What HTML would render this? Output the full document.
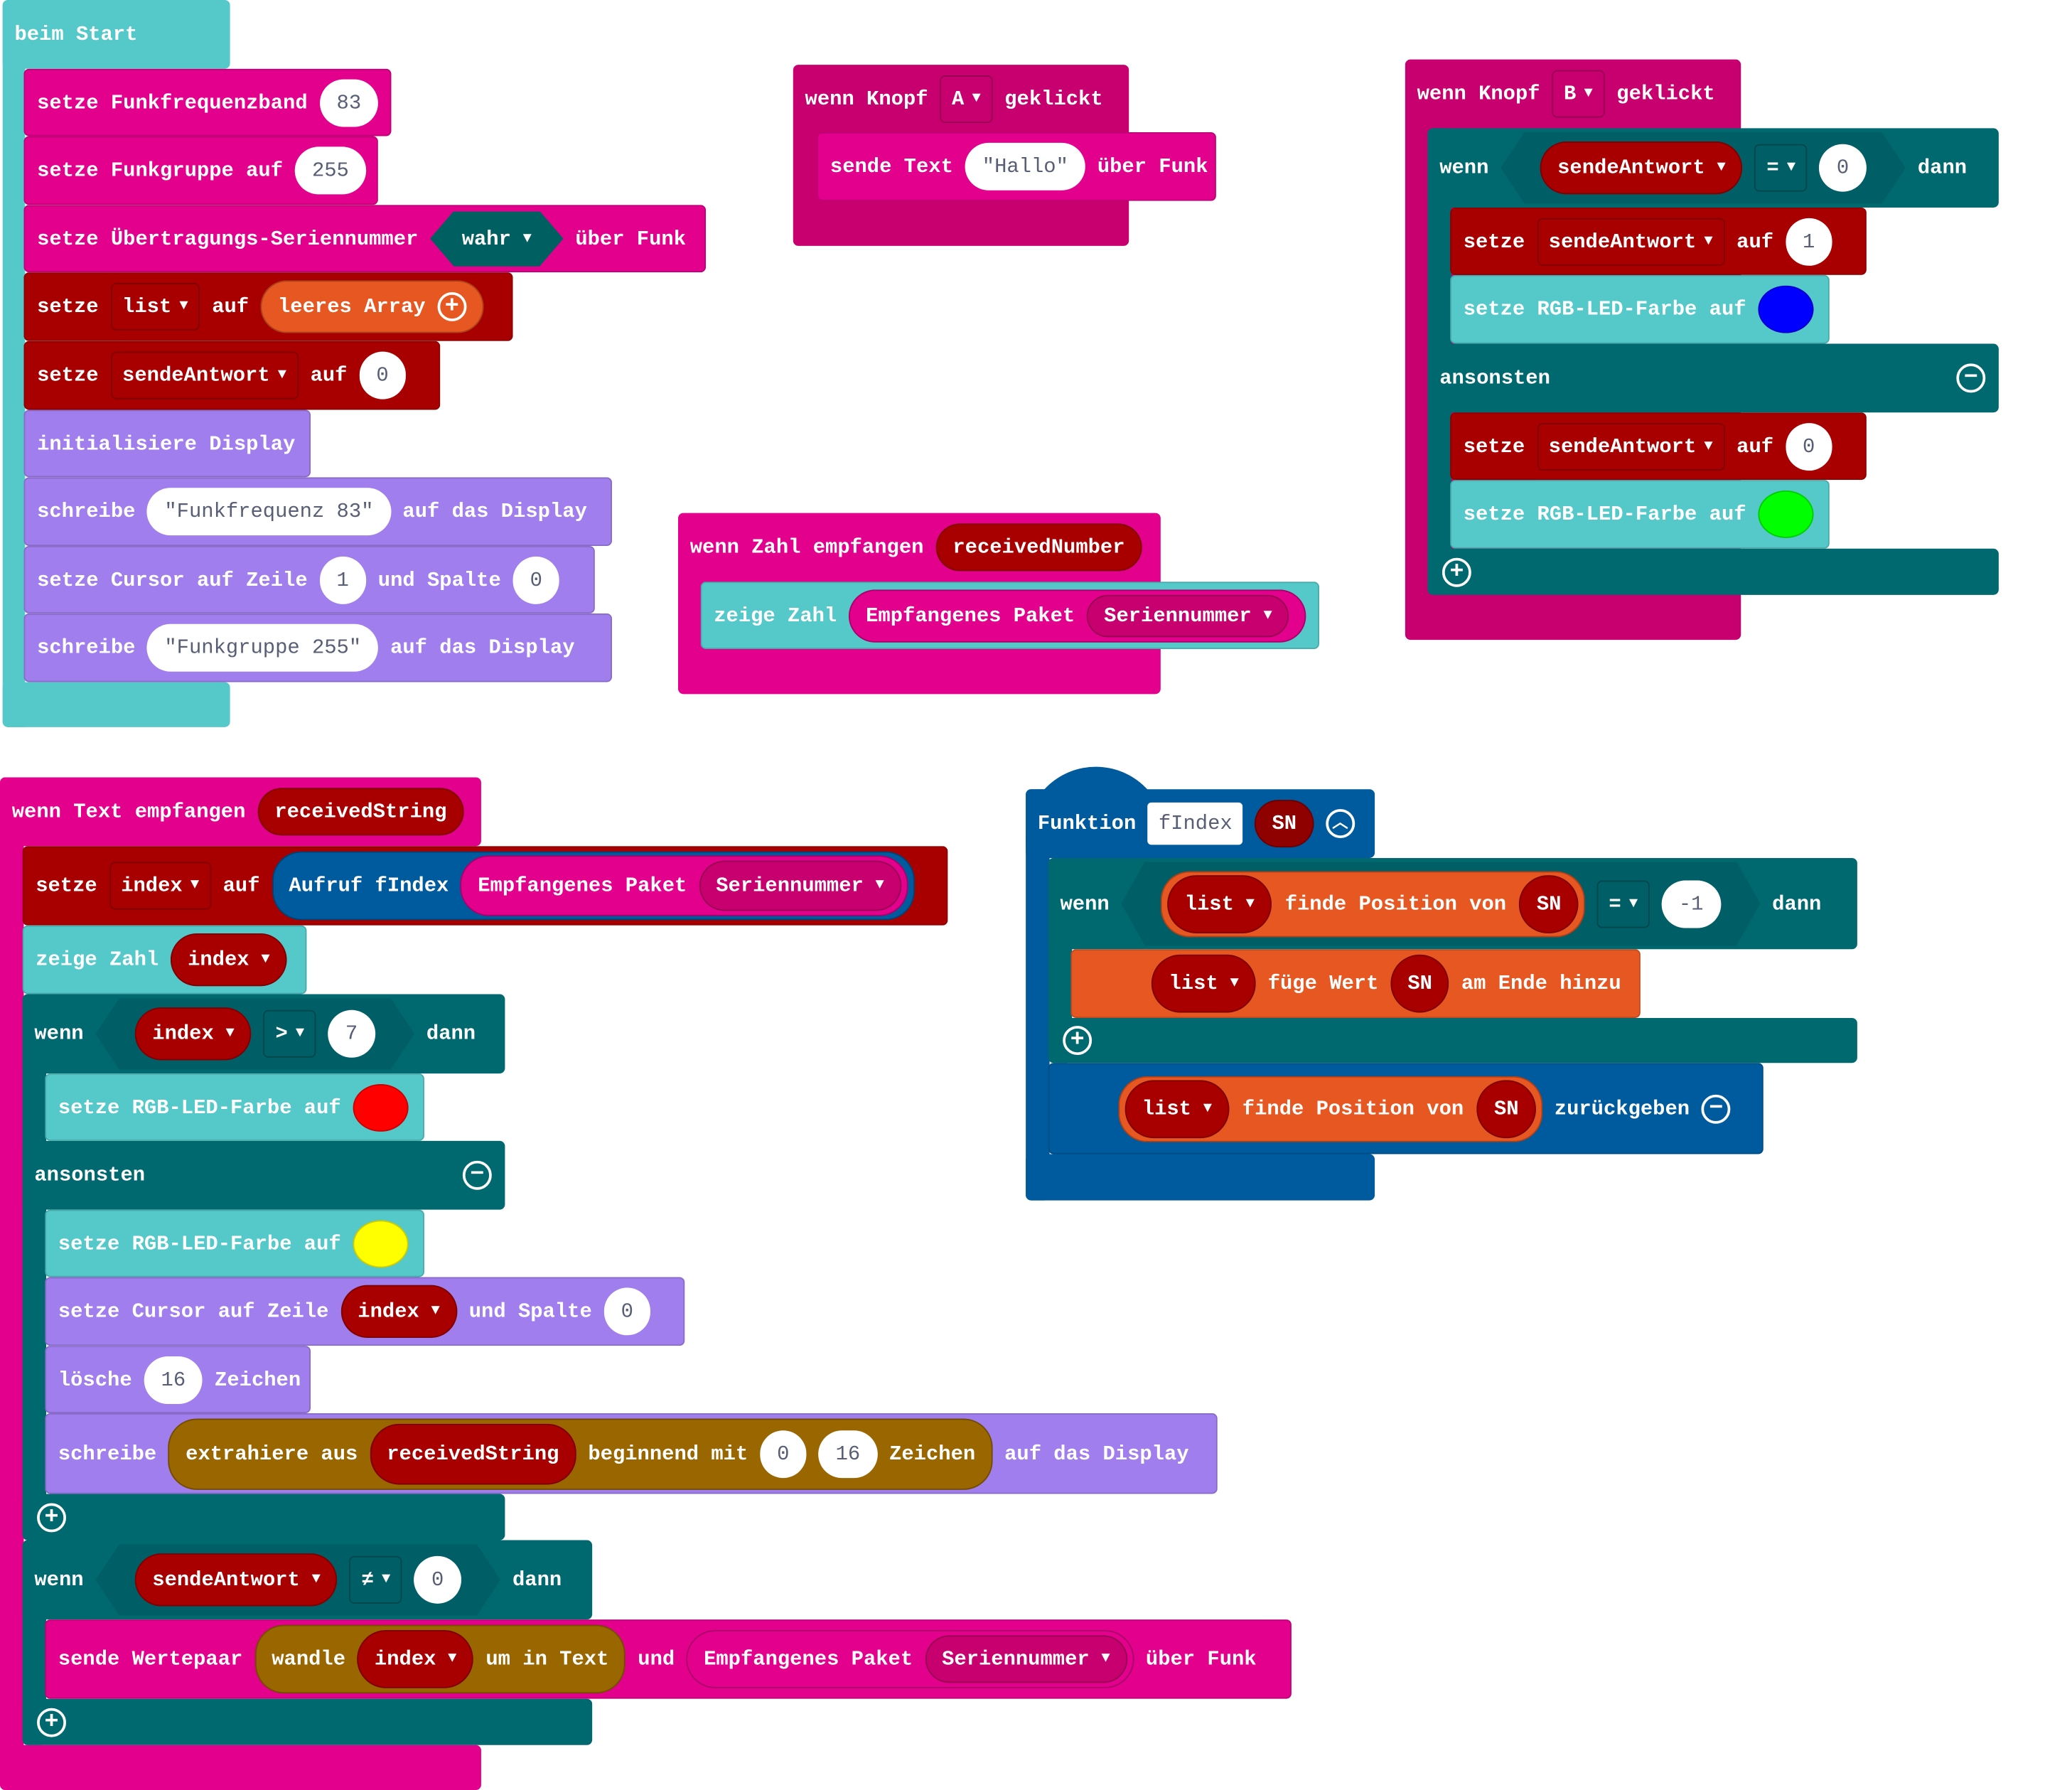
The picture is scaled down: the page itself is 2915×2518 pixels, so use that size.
<!DOCTYPE html>
<html><head><meta charset="utf-8"><style>
html,body{margin:0;padding:0;background:#fff;width:2915px;height:2518px;overflow:hidden}
#s{position:relative;width:1568px;height:1354px;transform:scale(1.8597);transform-origin:0 0}
.b{position:absolute;box-sizing:border-box;border-radius:4px}
.k{position:absolute;box-sizing:border-box;display:flex;align-items:center;gap:9px;padding-left:9px;border-radius:4px;color:#fff;font:bold 15.5px "Liberation Mono","DejaVu Sans Mono",monospace;white-space:nowrap;border:1px solid rgba(0,0,0,.15)}
.w{background:#fff;color:#575e75;border-radius:20px;height:36px;padding:0 13px;display:flex;align-items:center;font-weight:normal}
.r{border-radius:22px;height:40px;padding:0 12px;display:flex;align-items:center;gap:9px;border:1px solid rgba(0,0,0,.25);box-sizing:border-box}
.d{border:1px solid rgba(0,0,0,.25);border-radius:4px;height:36px;padding:0 8px;display:flex;align-items:center;gap:6px;box-sizing:border-box}
.a{font-size:11px}
.c{width:22px;height:22px;border:2px solid #fff;border-radius:50%;box-sizing:border-box;display:flex;align-items:center;justify-content:center;font-size:18px;line-height:1}
.sw{width:42px;height:36px;border-radius:50%;border:1px solid rgba(0,0,0,.2);box-sizing:border-box}
.hx{height:42px;display:flex;align-items:center;gap:9px;padding:0 24px;clip-path:polygon(18px 0,calc(100% - 18px) 0,100% 50%,calc(100% - 18px) 100%,18px 100%,0 50%)}
.mag{background:#e3008c}.red{background:#a80000}.pur{background:#a07eed}.lt{background:#55c9c9}.tl{background:#006970}.or{background:#e65722}.bl{background:#005a9e}.br{background:#996600}.hm{background:#c8006f}
</style></head><body><div id="s">

<!-- beim Start -->
<div class="b lt" style="left:2px;top:0;width:172px;height:52px"></div>
<div class="b lt" style="left:2px;top:0;width:17px;height:550px;border-radius:4px 0 0 4px"></div>
<div class="b lt" style="left:2px;top:516px;width:172px;height:34px"></div>
<div class="k" style="left:2px;top:0;height:52px;border:0">beim Start</div>
<div class="k mag" style="left:18px;top:52px;width:278px;height:51px">setze Funkfrequenzband<span class="w">83</span></div>
<div class="k mag" style="left:18px;top:103px;width:268px;height:52px">setze Funkgruppe auf<span class="w">255</span></div>
<div class="k mag" style="left:18px;top:155px;width:516px;height:51px">setze Übertragungs-Seriennummer<span class="hx" style="background:#005f60">wahr <span class="a">▼</span></span>über Funk</div>
<div class="k red" style="left:18px;top:206px;width:370px;height:52px">setze<span class="d">list <span class="a">▼</span></span>auf<span class="r or">leeres Array<span class="c">+</span></span></div>
<div class="k red" style="left:18px;top:258px;width:315px;height:52px">setze<span class="d">sendeAntwort <span class="a">▼</span></span>auf<span class="w">0</span></div>
<div class="k pur" style="left:18px;top:310px;width:217px;height:51px">initialisiere Display</div>
<div class="k pur" style="left:18px;top:361px;width:445px;height:52px">schreibe<span class="w">"Funkfrequenz  83"</span>auf das Display</div>
<div class="k pur" style="left:18px;top:413px;width:432px;height:51px">setze Cursor auf Zeile<span class="w">1</span>und Spalte<span class="w">0</span></div>
<div class="k pur" style="left:18px;top:464px;width:445px;height:52px">schreibe<span class="w">"Funkgruppe   255"</span>auf das Display</div>

<!-- Knopf A -->
<div class="b hm" style="left:600px;top:49px;width:254px;height:137px"></div>
<div class="k" style="left:600px;top:49px;height:51px;border:0">wenn Knopf<span class="d">A <span class="a">▼</span></span>geklickt</div>
<div class="k mag" style="left:618px;top:100px;width:302px;height:52px">sende Text<span class="w">"Hallo"</span>über Funk</div>

<!-- Knopf B -->
<div class="b hm" style="left:1063px;top:45px;width:254px;height:439px"></div>
<div class="k" style="left:1063px;top:45px;height:52px;border:0">wenn Knopf<span class="d">B <span class="a">▼</span></span>geklickt</div>
<div class="b tl" style="left:1080px;top:97px;width:432px;height:60px"></div>
<div class="b tl" style="left:1080px;top:97px;width:18px;height:353px"></div>
<div class="b tl" style="left:1080px;top:260px;width:432px;height:52px"></div>
<div class="b tl" style="left:1080px;top:415px;width:432px;height:35px"></div>
<div class="k" style="left:1080px;top:97px;height:60px;border:0">wenn<span class="hx" style="background:#005f66;height:54px;padding:0 30px"><span class="r red">sendeAntwort <span class="a">▼</span></span><span class="d">= <span class="a">▼</span></span><span class="w">0</span></span>dann</div>
<div class="k red" style="left:1097px;top:157px;width:315px;height:51px">setze<span class="d">sendeAntwort <span class="a">▼</span></span>auf<span class="w">1</span></div>
<div class="k lt" style="left:1097px;top:208px;width:287px;height:52px">setze RGB-LED-Farbe auf<span class="sw" style="background:#0000ff"></span></div>
<div class="k" style="left:1080px;top:260px;width:432px;height:52px;border:0">ansonsten<span class="c" style="position:absolute;right:10px">−</span></div>
<div class="k red" style="left:1097px;top:312px;width:315px;height:51px">setze<span class="d">sendeAntwort <span class="a">▼</span></span>auf<span class="w">0</span></div>
<div class="k lt" style="left:1097px;top:363px;width:287px;height:52px">setze RGB-LED-Farbe auf<span class="sw" style="background:#00ff00"></span></div>
<div class="k" style="left:1082px;top:415px;height:35px;border:0"><span class="c">+</span></div>

<!-- Zahl empfangen -->
<div class="b mag" style="left:513px;top:388px;width:365px;height:137px"></div>
<div class="k" style="left:513px;top:388px;height:52px;border:0">wenn Zahl empfangen<span class="r red" style="height:36px">receivedNumber</span></div>
<div class="k lt" style="left:530px;top:440px;width:468px;height:51px">zeige Zahl<span class="r mag">Empfangenes Paket<span class="r hm" style="height:32px">Seriennummer <span class="a">▼</span></span></span></div>

<!-- Text empfangen -->
<div class="b mag" style="left:0;top:588px;width:364px;height:52px"></div>
<div class="b mag" style="left:0;top:588px;width:18px;height:766px"></div>
<div class="b mag" style="left:0;top:1320px;width:364px;height:34px"></div>
<div class="k" style="left:0;top:588px;height:52px;border:0">wenn Text empfangen<span class="r red" style="height:36px">receivedString</span></div>
<div class="k red" style="left:17px;top:640px;width:700px;height:60px">setze<span class="d">index <span class="a">▼</span></span>auf<span class="r bl" style="height:52px;padding-right:4px">Aufruf fIndex<span class="r mag" style="height:46px;padding-right:4px">Empfangenes Paket<span class="r hm" style="height:38px">Seriennummer <span class="a">▼</span></span></span></span></div>
<div class="k lt" style="left:17px;top:700px;width:215px;height:52px">zeige Zahl<span class="r red">index <span class="a">▼</span></span></div>
<div class="b tl" style="left:17px;top:752px;width:365px;height:60px"></div>
<div class="b tl" style="left:17px;top:752px;width:18px;height:413px"></div>
<div class="b tl" style="left:17px;top:863px;width:365px;height:52px"></div>
<div class="b tl" style="left:17px;top:1130px;width:365px;height:35px"></div>
<div class="k" style="left:17px;top:752px;height:60px;border:0">wenn<span class="hx" style="background:#005f66;height:54px;padding:0 30px"><span class="r red">index <span class="a">▼</span></span><span class="d">&gt; <span class="a">▼</span></span><span class="w">7</span></span>dann</div>
<div class="k lt" style="left:34px;top:812px;width:287px;height:51px">setze RGB-LED-Farbe auf<span class="sw" style="background:#ff0000"></span></div>
<div class="k" style="left:17px;top:863px;width:365px;height:52px;border:0">ansonsten<span class="c" style="position:absolute;right:10px">−</span></div>
<div class="k lt" style="left:34px;top:915px;width:287px;height:51px">setze RGB-LED-Farbe auf<span class="sw" style="background:#ffff00"></span></div>
<div class="k pur" style="left:34px;top:966px;width:484px;height:52px">setze Cursor auf Zeile<span class="r red">index <span class="a">▼</span></span>und Spalte<span class="w">0</span></div>
<div class="k pur" style="left:34px;top:1018px;width:201px;height:51px">lösche<span class="w">16</span>Zeichen</div>
<div class="k pur" style="left:34px;top:1069px;width:887px;height:61px">schreibe<span class="r br" style="height:54px;padding-right:12px">extrahiere aus<span class="r red" style="height:46px">receivedString</span>beginnend mit<span class="w">0</span><span class="w">16</span>Zeichen</span>auf das Display</div>
<div class="k" style="left:19px;top:1130px;height:35px;border:0"><span class="c">+</span></div>
<div class="b tl" style="left:17px;top:1165px;width:431px;height:60px"></div>
<div class="b tl" style="left:17px;top:1165px;width:18px;height:155px"></div>
<div class="b tl" style="left:17px;top:1285px;width:431px;height:35px"></div>
<div class="k" style="left:17px;top:1165px;height:60px;border:0">wenn<span class="hx" style="background:#005f66;height:54px;padding:0 30px"><span class="r red">sendeAntwort <span class="a">▼</span></span><span class="d">≠ <span class="a">▼</span></span><span class="w">0</span></span>dann</div>
<div class="k mag" style="left:34px;top:1225px;width:943px;height:60px">sende Wertepaar<span class="r br" style="height:52px">wandle<span class="r red" style="height:44px">index <span class="a">▼</span></span>um in Text</span>und<span class="r mag" style="height:44px;padding-right:4px">Empfangenes Paket<span class="r hm" style="height:36px">Seriennummer <span class="a">▼</span></span></span>über Funk</div>
<div class="k" style="left:19px;top:1285px;height:35px;border:0"><span class="c">+</span></div>

<!-- Funktion -->
<div class="b bl" style="left:776px;top:580px;width:106px;height:60px;border-radius:53px 53px 0 0"></div>
<div class="b bl" style="left:776px;top:597px;width:264px;height:52px"></div>
<div class="b bl" style="left:776px;top:597px;width:18px;height:311px"></div>
<div class="b bl" style="left:776px;top:873px;width:264px;height:35px"></div>
<div class="k" style="left:776px;top:597px;height:52px;border:0">Funktion<span class="w" style="border-radius:3px;height:32px;padding:0 8px">fIndex</span><span class="r red" style="background:#8f0000;height:36px">SN</span><span class="c" style="font-size:12px">︿</span></div>
<div class="b tl" style="left:793px;top:649px;width:612px;height:69px"></div>
<div class="b tl" style="left:793px;top:649px;width:18px;height:155px"></div>
<div class="b tl" style="left:793px;top:770px;width:612px;height:34px"></div>
<div class="k" style="left:793px;top:649px;height:69px;border:0">wenn<span class="hx" style="background:#005f66;height:64px;padding:0 30px"><span class="r or" style="height:50px;padding:0 4px;gap:10px"><span class="r red" style="height:44px">list <span class="a">▼</span></span>finde Position von<span class="r red" style="height:44px">SN</span></span><span class="d">= <span class="a">▼</span></span><span class="w">-1</span></span>dann</div>
<div class="k or" style="left:810px;top:718px;width:431px;height:52px;padding-left:50px">&nbsp;<span class="r red" style="height:44px;margin-left:-8px">list <span class="a">▼</span></span>füge Wert<span class="r red" style="height:44px">SN</span>am Ende hinzu</div>
<div class="k" style="left:795px;top:770px;height:34px;border:0"><span class="c">+</span></div>
<div class="k bl" style="left:793px;top:804px;width:541px;height:69px;padding-left:52px"><span class="r or" style="height:50px;padding:0 4px;gap:10px"><span class="r red" style="height:44px">list <span class="a">▼</span></span>finde Position von<span class="r red" style="height:44px">SN</span></span>zurückgeben<span class="c">−</span></div>

</div></body></html>
